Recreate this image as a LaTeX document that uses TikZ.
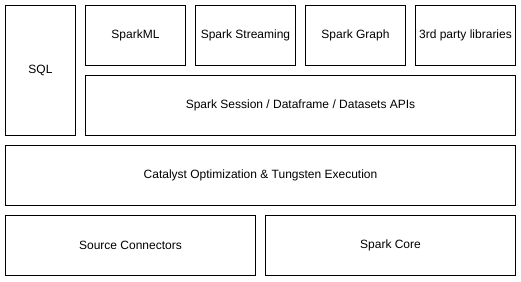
\documentclass[tikz,border=0pt]{standalone}
\usepackage{fontspec}
\setmainfont{Liberation Sans}
\begin{document}
\begin{tikzpicture}[x=1pt,y=-1pt,
  layer/.style={draw=black,line width=1pt,fill=white,font=\fontsize{12}{14}\selectfont}]
\useasboundingbox (0,0) rectangle (521,281);
% left column
\draw[layer] (5.5,5.5) rectangle (75.5,135.5) node[midway] (sql) {SQL};
% libraries on top of the session API
\draw[layer] (85.5,5.5) rectangle (185.5,65.5) node[midway] (ml) {SparkML};
\draw[layer] (195.5,5.5) rectangle (295.5,65.5) node[midway] (stream) {Spark Streaming};
\draw[layer] (305.5,5.5) rectangle (405.5,65.5) node[midway] (graph) {Spark Graph};
\draw[layer] (415.5,5.5) rectangle (515.5,65.5) node[midway] (third) {3rd party libraries};
% session API
\draw[layer] (85.5,75.5) rectangle (515.5,135.5) node[midway] (session) {Spark Session / Dataframe / Datasets APIs};
% optimizer
\draw[layer] (5.5,145.5) rectangle (515.5,205.5) node[midway] (catalyst) {Catalyst Optimization \& Tungsten Execution};
% bottom layer
\draw[layer] (5.5,215.5) rectangle (255.5,275.5) node[midway] (source) {Source Connectors};
\draw[layer] (265.5,215.5) rectangle (515.5,275.5) node[midway] (core) {Spark Core};
\end{tikzpicture}
\end{document}
